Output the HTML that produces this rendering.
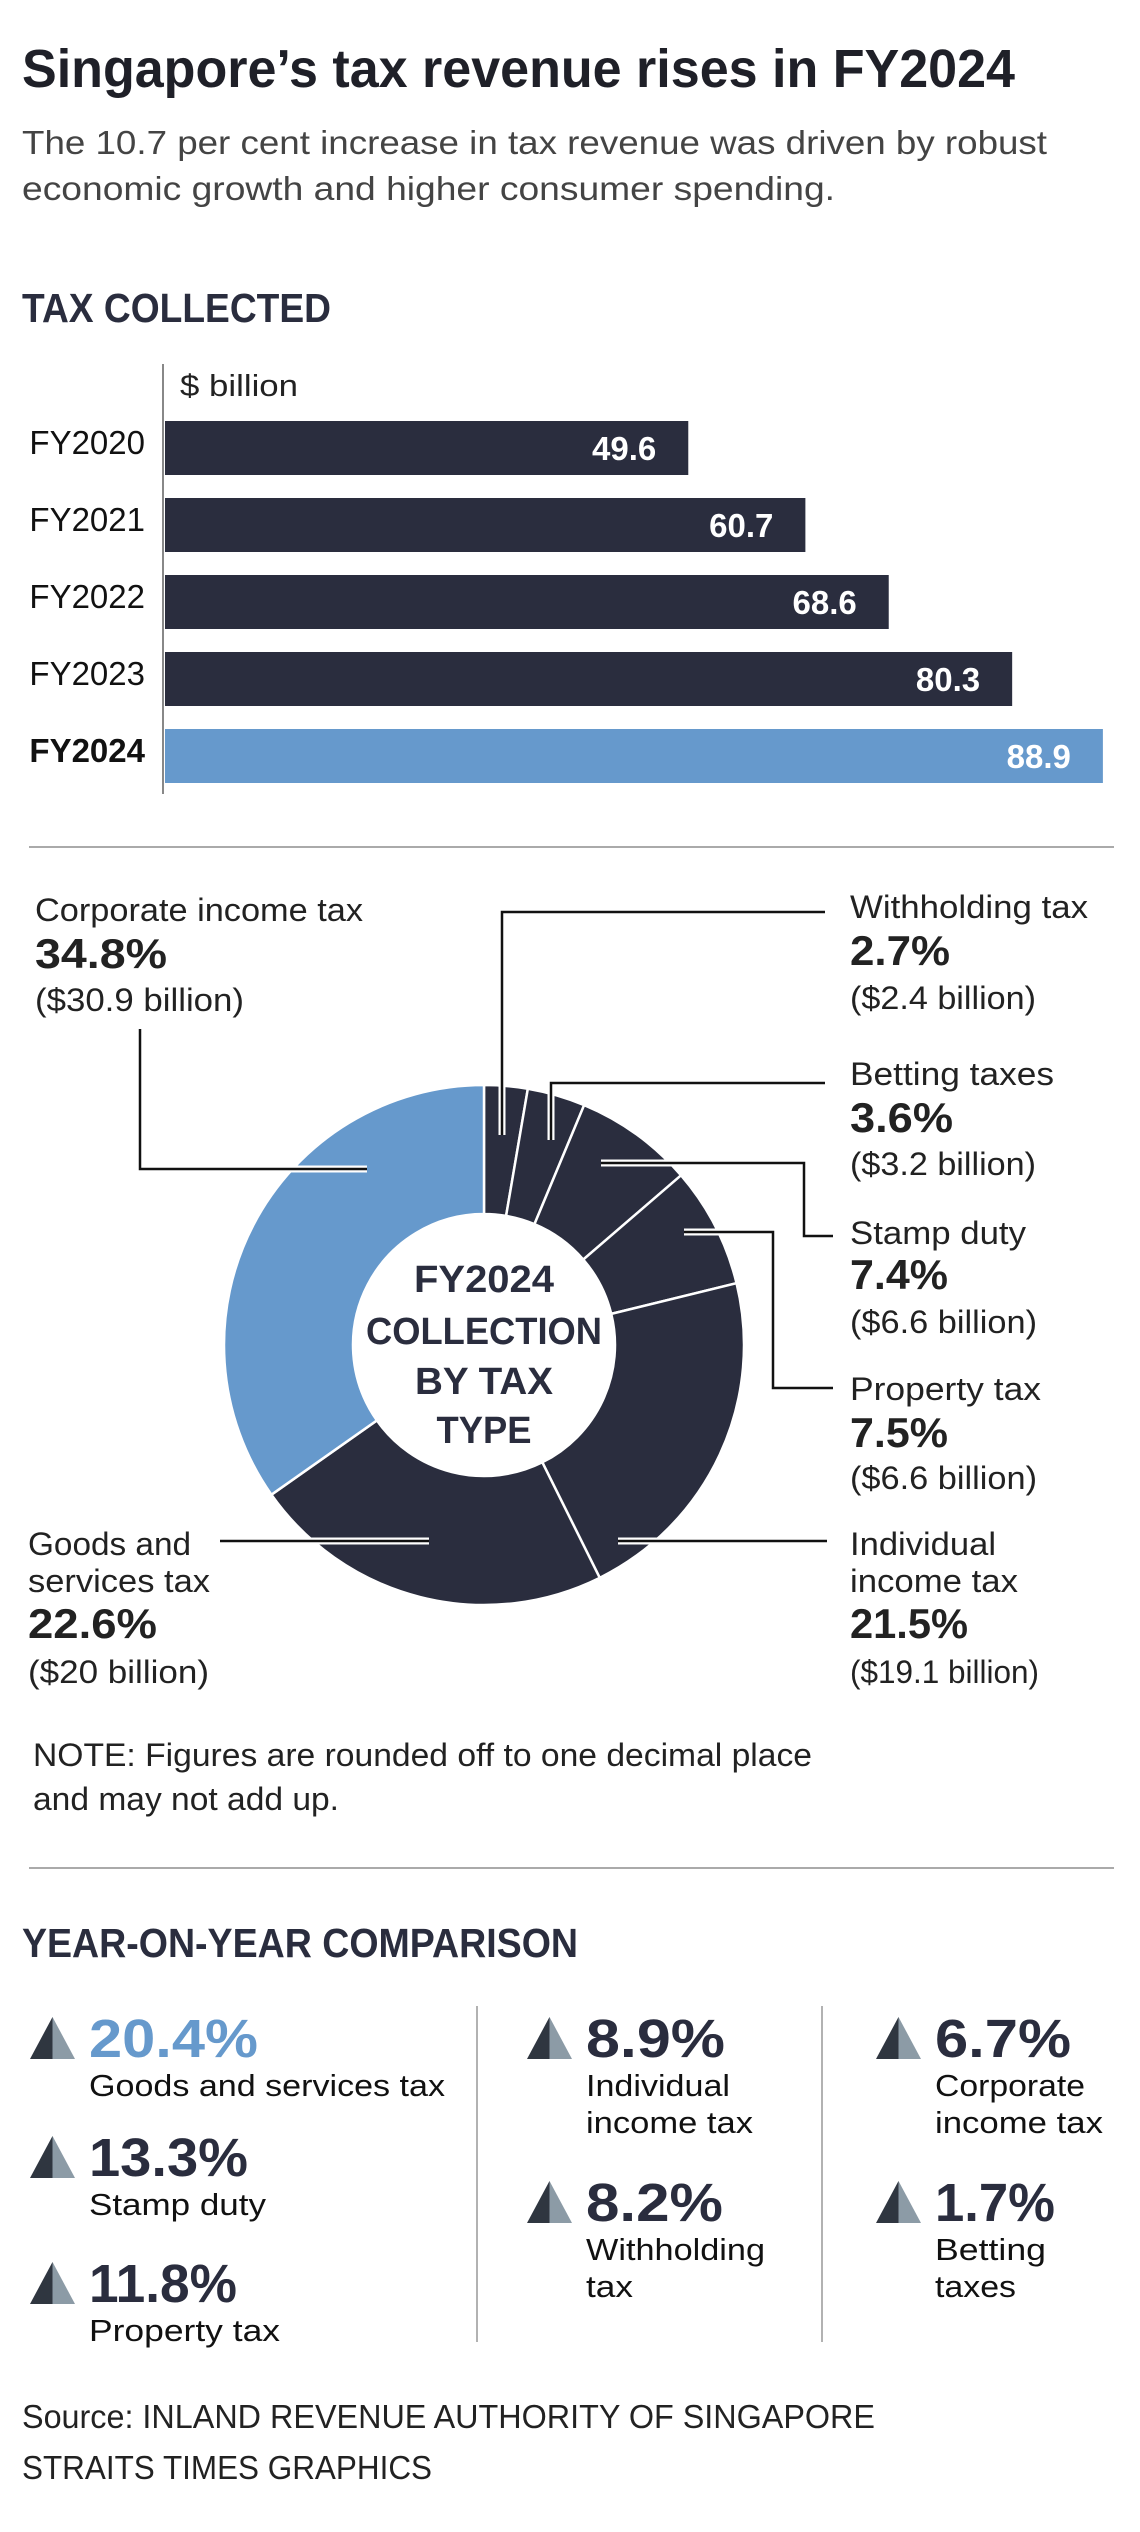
<!DOCTYPE html>
<html><head><meta charset="utf-8"><title>Singapore tax revenue FY2024</title>
<style>
html,body{margin:0;padding:0;background:#fff;}
svg{display:block;}
text{font-family:"Liberation Sans Narrow","Liberation Sans",sans-serif;}
</style></head>
<body>
<svg id="root" width="1140" height="2532" viewBox="0 0 1140 2532" xmlns="http://www.w3.org/2000/svg">
<rect width="1140" height="2532" fill="#fff"/>
<text x="22" y="87" font-size="54" font-weight="bold" fill="#1f2028" textLength="993" lengthAdjust="spacingAndGlyphs">Singapore’s tax revenue rises in FY2024</text>
<text x="22" y="154" font-size="33" fill="#444" textLength="1025" lengthAdjust="spacingAndGlyphs">The 10.7 per cent increase in tax revenue was driven by robust</text>
<text x="22" y="200" font-size="33" fill="#444" textLength="813" lengthAdjust="spacingAndGlyphs">economic growth and higher consumer spending.</text>

<text x="22" y="322" font-size="41" font-weight="bold" fill="#2a2d3e" textLength="309" lengthAdjust="spacingAndGlyphs">TAX COLLECTED</text>
<line x1="163" y1="364" x2="163" y2="794" stroke="#888" stroke-width="2"/>
<text x="180" y="396" font-size="31" fill="#222" textLength="118" lengthAdjust="spacingAndGlyphs">$ billion</text>
<g id="bars"></g>
<line x1="29" y1="847" x2="1114" y2="847" stroke="#aaa" stroke-width="2"/>

<g id="donut"></g>
<g id="leaders" fill="none">
  <polyline points="140,1029 140,1169 367,1169" stroke="#fff" stroke-width="7"/>
  <polyline points="140,1029 140,1169 367,1169" stroke="#111" stroke-width="2.5"/>
  <polyline points="825,912 502,912 502,1135" stroke="#fff" stroke-width="7"/>
  <polyline points="825,912 502,912 502,1135" stroke="#111" stroke-width="2.5"/>
  <polyline points="825,1083 551,1083 551,1140" stroke="#fff" stroke-width="7"/>
  <polyline points="825,1083 551,1083 551,1140" stroke="#111" stroke-width="2.5"/>
  <polyline points="601,1163 804,1163 804,1236 833,1236" stroke="#fff" stroke-width="7"/>
  <polyline points="601,1163 804,1163 804,1236 833,1236" stroke="#111" stroke-width="2.5"/>
  <polyline points="684,1232 773,1232 773,1388 833,1388" stroke="#fff" stroke-width="7"/>
  <polyline points="684,1232 773,1232 773,1388 833,1388" stroke="#111" stroke-width="2.5"/>
  <polyline points="618,1541 827,1541" stroke="#fff" stroke-width="7"/>
  <polyline points="618,1541 827,1541" stroke="#111" stroke-width="2.5"/>
  <polyline points="220,1541 429,1541" stroke="#fff" stroke-width="7"/>
  <polyline points="220,1541 429,1541" stroke="#111" stroke-width="2.5"/>
</g>
<g font-weight="bold" fill="#2a2d3e" font-size="38" text-anchor="middle">
  <text x="484" y="1292" textLength="140" lengthAdjust="spacingAndGlyphs">FY2024</text>
  <text x="484" y="1344" textLength="236" lengthAdjust="spacingAndGlyphs">COLLECTION</text>
  <text x="484" y="1394" textLength="138" lengthAdjust="spacingAndGlyphs">BY TAX</text>
  <text x="484" y="1443" textLength="95" lengthAdjust="spacingAndGlyphs">TYPE</text>
</g>

<g fill="#222">
  <g>
    <text x="35" y="921" font-size="32" textLength="328" lengthAdjust="spacingAndGlyphs">Corporate income tax</text>
    <text x="35" y="968" font-size="42" font-weight="bold" textLength="132" lengthAdjust="spacingAndGlyphs">34.8%</text>
    <text x="35" y="1011" font-size="32" textLength="209" lengthAdjust="spacingAndGlyphs">($30.9 billion)</text>
  </g>
  <g>
    <text x="850" y="918" font-size="32" textLength="238" lengthAdjust="spacingAndGlyphs">Withholding tax</text>
    <text x="850" y="965" font-size="42" font-weight="bold" textLength="100" lengthAdjust="spacingAndGlyphs">2.7%</text>
    <text x="850" y="1009" font-size="32" textLength="186" lengthAdjust="spacingAndGlyphs">($2.4 billion)</text>
  </g>
  <g>
    <text x="850" y="1085" font-size="32" textLength="204" lengthAdjust="spacingAndGlyphs">Betting taxes</text>
    <text x="850" y="1132" font-size="42" font-weight="bold" textLength="103" lengthAdjust="spacingAndGlyphs">3.6%</text>
    <text x="850" y="1175" font-size="32" textLength="186" lengthAdjust="spacingAndGlyphs">($3.2 billion)</text>
  </g>
  <g>
    <text x="850" y="1244" font-size="32" textLength="176" lengthAdjust="spacingAndGlyphs">Stamp duty</text>
    <text x="850" y="1289" font-size="42" font-weight="bold" textLength="98" lengthAdjust="spacingAndGlyphs">7.4%</text>
    <text x="850" y="1333" font-size="32" textLength="187" lengthAdjust="spacingAndGlyphs">($6.6 billion)</text>
  </g>
  <g>
    <text x="850" y="1400" font-size="32" textLength="191" lengthAdjust="spacingAndGlyphs">Property tax</text>
    <text x="850" y="1447" font-size="42" font-weight="bold" textLength="98" lengthAdjust="spacingAndGlyphs">7.5%</text>
    <text x="850" y="1489" font-size="32" textLength="187" lengthAdjust="spacingAndGlyphs">($6.6 billion)</text>
  </g>
  <g>
    <text x="850" y="1555" font-size="32" textLength="146" lengthAdjust="spacingAndGlyphs">Individual</text>
    <text x="850" y="1592" font-size="32" textLength="168" lengthAdjust="spacingAndGlyphs">income tax</text>
    <text x="850" y="1638" font-size="42" font-weight="bold" textLength="118" lengthAdjust="spacingAndGlyphs">21.5%</text>
    <text x="850" y="1683" font-size="32" textLength="189" lengthAdjust="spacingAndGlyphs">($19.1 billion)</text>
  </g>
  <g>
    <text x="28" y="1555" font-size="32" textLength="163" lengthAdjust="spacingAndGlyphs">Goods and</text>
    <text x="28" y="1592" font-size="32" textLength="182" lengthAdjust="spacingAndGlyphs">services tax</text>
    <text x="28" y="1638" font-size="42" font-weight="bold" textLength="129" lengthAdjust="spacingAndGlyphs">22.6%</text>
    <text x="28" y="1683" font-size="32" textLength="181" lengthAdjust="spacingAndGlyphs">($20 billion)</text>
  </g>
</g>
<text x="33" y="1766" font-size="32" fill="#222" textLength="779" lengthAdjust="spacingAndGlyphs">NOTE: Figures are rounded off to one decimal place</text>
<text x="33" y="1810" font-size="32" fill="#222" textLength="306" lengthAdjust="spacingAndGlyphs">and may not add up.</text>
<line x1="29" y1="1868" x2="1114" y2="1868" stroke="#aaa" stroke-width="2"/>

<text x="22" y="1957" font-size="41" font-weight="bold" fill="#2a2d3e" textLength="556" lengthAdjust="spacingAndGlyphs">YEAR-ON-YEAR COMPARISON</text>
<line x1="477" y1="2006" x2="477" y2="2342" stroke="#999" stroke-width="1.5"/>
<line x1="822" y1="2006" x2="822" y2="2342" stroke="#999" stroke-width="1.5"/>
<g id="yoy"></g>

<text x="22" y="2428" font-size="33" fill="#222" textLength="853" lengthAdjust="spacingAndGlyphs">Source: INLAND REVENUE AUTHORITY OF SINGAPORE</text>
<text x="22" y="2479" font-size="33" fill="#222" textLength="410" lengthAdjust="spacingAndGlyphs">STRAITS TIMES GRAPHICS</text>
</svg>
<script>
const years = ["FY2020","FY2021","FY2022","FY2023","FY2024"];
const revenue = [49.6, 60.7, 68.6, 80.3, 88.9];
const sliceNames = ["Withholding tax","Betting taxes","Stamp duty","Property tax","Individual income tax","Goods and services tax","Corporate income tax"];
const sliceShares = [2.7, 3.6, 7.4, 7.5, 21.5, 22.6, 34.8];
const yoyNames = [["Goods and services tax"],["Stamp duty"],["Property tax"],["Individual","income tax"],["Withholding","tax"],["Corporate","income tax"],["Betting","taxes"]];
const yoyValues = ["20.4%","13.3%","11.8%","8.9%","8.2%","6.7%","1.7%"];

// layout (not data)
const yoyPos = [[30,2057],[30,2176],[30,2302],[527,2057],[527,2221],[876,2057],[876,2221]];
const yoyValueWidths = [169,159,148,139,137,136,120];
const yoyNameWidths = [[356],[177],[191],[144,167],[179,47],[150,168],[111,81]];

const NS = "http://www.w3.org/2000/svg";
function el(tag, attrs, parent){const e=document.createElementNS(NS,tag);for(const k in attrs)e.setAttribute(k,attrs[k]);parent.appendChild(e);return e;}

// Bars
const bx0 = 165, pxPer = 10.55, by0 = 421, bStep = 77, bH = 54;
const xS = v => bx0 + v*pxPer;
const yS = i => by0 + i*bStep;
const barsG = document.getElementById("bars");
years.forEach((y,i)=>{
  const last = i===years.length-1;
  const r = el("rect",{x:bx0,y:yS(i),width:xS(revenue[i])-bx0,height:bH,fill:last?"#6699cc":"#2a2d3e"},barsG);
  
  
  const t = el("text",{x:xS(revenue[i])-32,y:yS(i)+39,"font-size":33,"font-weight":"bold",fill:"#fff","text-anchor":"end"},barsG);
  t.textContent = revenue[i].toFixed(1);
  
  
  const l = el("text",{x:145,y:yS(i)+33,"font-size":33,"font-weight":last?"bold":"normal",fill:"#111","text-anchor":"end"},barsG);
  l.textContent = y;
  
  
});

// Donut
const cx = 484, cy = 1345, rOut = 260, rIn = 131;
const total = sliceShares.reduce((a,b)=>a+b,0);
const donutG = document.getElementById("donut");
let acc = 0;
const pt = (r,a)=>[cx + r*Math.sin(a), cy - r*Math.cos(a)];
sliceShares.forEach((v,i)=>{
  const a0 = acc/total*2*Math.PI; acc += v; const a1 = acc/total*2*Math.PI;
  const large = (a1-a0)>Math.PI?1:0;
  const [x0,y0]=pt(rOut,a0),[x1,y1]=pt(rOut,a1),[x2,y2]=pt(rIn,a1),[x3,y3]=pt(rIn,a0);
  const d = `M${x0},${y0} A${rOut},${rOut} 0 ${large} 1 ${x1},${y1} L${x2},${y2} A${rIn},${rIn} 0 ${large} 0 ${x3},${y3} Z`;
  const p = el("path",{d:d,fill:i===sliceShares.length-1?"#6699cc":"#2a2d3e",stroke:"#fff","stroke-width":2.5},donutG);
  
  
});

// YoY items
const yoyG = document.getElementById("yoy");
yoyValues.forEach((v,i)=>{
  const [tx,base] = yoyPos[i];
  const g = el("g",{},yoyG);
  
  
  el("polygon",{points:`${tx},${base+2} ${tx+22.5},${base-40} ${tx+22.5},${base+2}`,fill:"#2f3640"},g);
  el("polygon",{points:`${tx+22.5},${base-40} ${tx+45},${base+2} ${tx+22.5},${base+2}`,fill:"#8c9ba6"},g);
  const vt = el("text",{x:tx+59,y:base,"font-size":54,"font-weight":"bold",fill:i===0?"#6699cc":"#2a2d3e",textLength:yoyValueWidths[i],lengthAdjust:"spacingAndGlyphs"},g);
  vt.textContent = v;
  
  
  yoyNames[i].forEach((n,j)=>{
    const nt = el("text",{x:tx+59,y:base+39+j*37,"font-size":31,fill:"#111",textLength:yoyNameWidths[i][j],lengthAdjust:"spacingAndGlyphs"},g);
    nt.textContent = n;
    
    
  });
});
</script>
</body></html>
